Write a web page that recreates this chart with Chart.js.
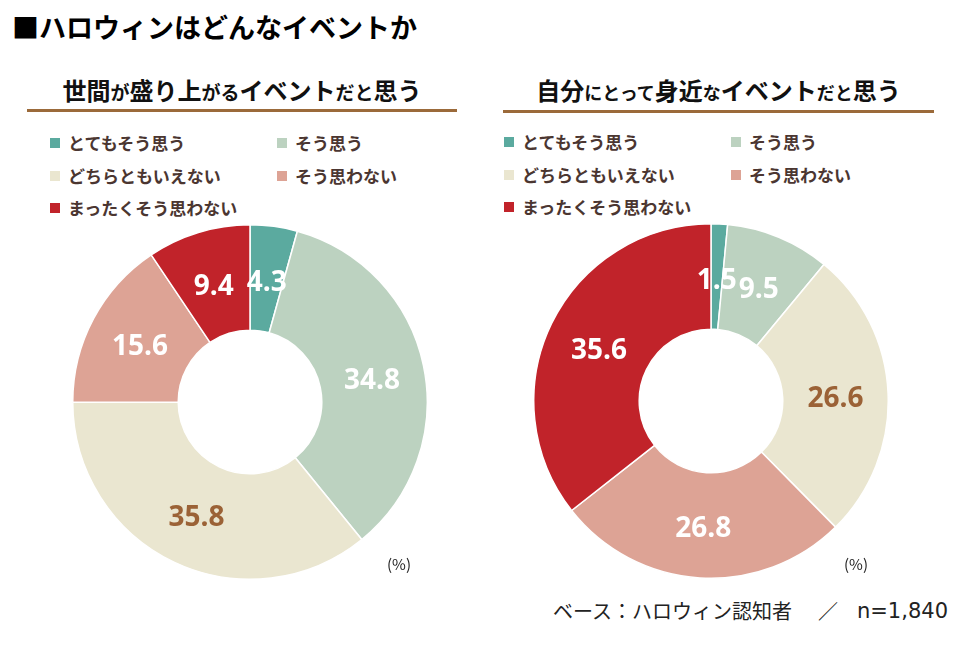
<!DOCTYPE html>
<html><head><meta charset="utf-8">
<script src="https://cdn.jsdelivr.net/npm/chart.js@4.4.1/dist/chart.umd.min.js"></script>
<style>
html,body{margin:0;padding:0;background:#fff;}
#page{position:relative;width:960px;height:652px;overflow:hidden;font-family:"Noto Sans CJK JP","Noto Sans",sans-serif;}
.abs{position:absolute;}
#title{left:12px;top:7px;font-size:27px;font-weight:700;color:#000;line-height:40px;white-space:nowrap;}
.sub{top:73px;height:34px;line-height:34px;font-weight:700;color:#111;white-space:nowrap;text-align:center;}
.sub .b{font-size:24px}.sub .s{font-size:19px}.sub .s2{font-size:18px}
.rule{height:3px;background:#9B6A3A;}
.li{position:absolute;white-space:nowrap;font-weight:700;font-size:17px;color:#4B3631;line-height:24px;height:24px;}
.li i{position:absolute;left:0;top:7px;width:10px;height:10px;}
.li span{position:absolute;left:18px;top:0;}
.pct{font-size:15px;color:#222;white-space:nowrap;}
.foot{top:596px;font-size:20px;color:#222;white-space:nowrap;line-height:30px;font-weight:400;}
.cw{position:absolute;width:356px;height:356px;}
</style>
</head><body>
<div id="page">
  <div id="title" class="abs">■ハロウィンはどんなイベントか</div>

  <div class="abs sub" style="left:27px;width:430px;"><span class="b">世間</span><span class="s">が</span><span class="b">盛り上</span><span class="s">がる</span><span class="b">イベント</span><span class="s">だと</span><span class="b">思う</span></div>
  <div class="abs rule" style="left:27px;top:109px;width:430px;"></div>

  <div class="abs sub" style="left:503px;width:431px;"><span class="b">自分</span><span class="s2">にとって</span><span class="b">身近</span><span class="s2">な</span><span class="b">イベント</span><span class="s2">だと</span><span class="b">思う</span></div>
  <div class="abs rule" style="left:503px;top:110px;width:431px;"></div>

  <div id="legL"></div>
  <div id="legR"></div>

  <div class="cw" style="left:72px;top:224px;"><canvas id="c1"></canvas></div>
  <div class="cw" style="left:533px;top:223px;"><canvas id="c2"></canvas></div>

  <div class="abs pct" style="left:387px;top:553px;">(%)</div>
  <div class="abs pct" style="left:844px;top:553px;">(%)</div>

  <div class="abs foot" style="left:553px;">ベース：ハロウィン認知者</div>
  <div class="abs foot" style="left:818px;">／</div>
  <div class="abs foot" style="right:12px;font-family:'DejaVu Sans',sans-serif;font-size:21px;">n=1,840</div>
</div>
<script>
const categories = ["とてもそう思う","そう思う","どちらともいえない","そう思わない","まったくそう思わない"];
const seriesLively = [4.3, 34.8, 35.8, 15.6, 9.4];
const seriesFamiliar = [1.5, 9.5, 26.6, 26.8, 35.6];
const sliceColors = ["#5BAA9F","#BCD2C0","#EAE6D0","#DDA395","#C1232A"];
const valueLabelColors = ["#FFFFFF","#FFFFFF","#9B6236","#FFFFFF","#FFFFFF"];

const arcLabels = {
  id:'arcLabels',
  afterDatasetsDraw(chart){
    const ctx = chart.ctx;
    const meta = chart.getDatasetMeta(0);
    const data = chart.data.datasets[0].data;
    ctx.save();
    ctx.font = '700 28px "Open Sans", "DejaVu Sans", sans-serif';
    ctx.textAlign = 'center';
    ctx.textBaseline = 'middle';
    meta.data.forEach((arc,i)=>{
      const p = arc.tooltipPosition();
      ctx.fillStyle = valueLabelColors[i];
      ctx.fillText(data[i].toFixed(1), p.x, p.y + 4);
    });
    ctx.restore();
  }
};

function makeChart(id, values){
  return new Chart(document.getElementById(id), {
    type:'doughnut',
    data:{labels:categories, datasets:[{data:values, backgroundColor:sliceColors, borderColor:'#FFFFFF', borderWidth:1.5, hoverOffset:0}]},
    options:{
      responsive:true, maintainAspectRatio:false, animation:false, events:[],
      cutout:'40.5%',
      layout:{padding:0},
      plugins:{legend:{display:false}, tooltip:{enabled:false}}
    },
    plugins:[arcLabels]
  });
}

function buildLegend(el, chart, x0, x1, ys){
  const items = chart.data.labels.map((t,i)=>({text:t, color:chart.data.datasets[0].backgroundColor[i]}));
  const pos = [[x0,ys[0]],[x1,ys[0]],[x0,ys[1]],[x1,ys[1]],[x0,ys[2]]];
  items.forEach((it,i)=>{
    const d = document.createElement('div');
    d.className='li';
    d.style.left = pos[i][0]+'px';
    d.style.top = (pos[i][1]-12)+'px';
    d.innerHTML = '<i style="background:'+it.color+'"></i><span>'+it.text+'</span>';
    el.appendChild(d);
  });
}

const ch1 = makeChart('c1', seriesLively);
const ch2 = makeChart('c2', seriesFamiliar);
buildLegend(document.getElementById('legL'), ch1, 50, 277, [143,176,208]);
buildLegend(document.getElementById('legR'), ch2, 504, 731, [142,175,207]);
</script>
</body></html>
